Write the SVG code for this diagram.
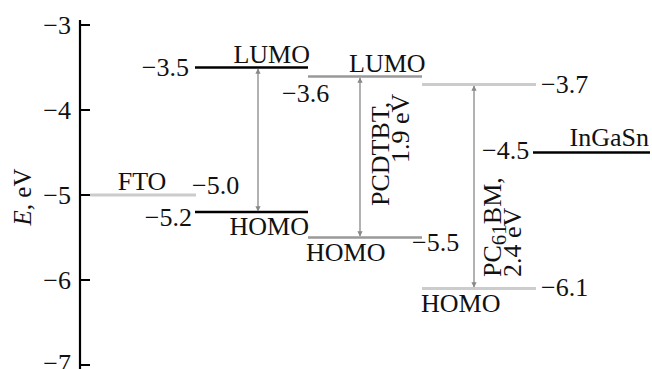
<svg xmlns="http://www.w3.org/2000/svg" width="652" height="369" viewBox="0 0 652 369">
<defs>
<marker id="ah" viewBox="0 0 10 10" refX="9" refY="5" markerWidth="4" markerHeight="4" orient="auto-start-reverse" markerUnits="strokeWidth">
<path d="M0,0 L10,5 L0,10 z" fill="#888"/>
</marker>
<style>
text{font-family:"Liberation Serif","Times New Roman",serif;font-size:26px;fill:#111}
.ax{stroke:#000;stroke-width:2.2;fill:none}
.blk{stroke:#000;stroke-width:2.5}
.mid{stroke:#999;stroke-width:2.5}
.lt{stroke:#ccc;stroke-width:3}
.arr{stroke:#888;stroke-width:1.3;marker-start:url(#ah);marker-end:url(#ah)}
.e{text-anchor:end}
</style>
</defs>
<g id="axis">
<line class="ax" x1="80" y1="20" x2="80" y2="369"/>
<path class="ax" d="M80,25H90M80,110H90M80,195H90M80,280H90M80,365H90"/>
<text class="e" x="71" y="34">−3</text>
<text class="e" x="71" y="119">−4</text>
<text class="e" x="71" y="204">−5</text>
<text class="e" x="71" y="289">−6</text>
<text class="e" x="71" y="372">−7</text>
<text transform="translate(31,197) rotate(-90)" text-anchor="middle" style="font-size:25px"><tspan font-style="italic">E</tspan>, eV</text>
</g>
<g id="fto">
<line class="lt" x1="90" y1="195" x2="196" y2="195"/>
<text x="142" y="190" text-anchor="middle">FTO</text>
<text x="192" y="194">−5.0</text>
</g>
<g id="donor">
<line class="blk" x1="195" y1="67.5" x2="308" y2="67.5"/>
<line class="blk" x1="195" y1="212" x2="308" y2="212"/>
<text class="e" x="310" y="63">LUMO</text>
<text class="e" x="309" y="235">HOMO</text>
<text class="e" x="189" y="76">−3.5</text>
<text class="e" x="192" y="226">−5.2</text>
</g>
<g id="pcdtbt">
<line class="mid" x1="308" y1="76.5" x2="422" y2="76.5"/>
<line class="mid" x1="308" y1="237.5" x2="422" y2="237.5"/>
<text x="349" y="72">LUMO</text>
<text x="306" y="261">HOMO</text>
<text x="282" y="102">−3.6</text>
<text x="412" y="251">−5.5</text>
<text transform="translate(389,206) rotate(-90)">PCDTBT,</text>
<text transform="translate(409,163) rotate(-90)">1.9 eV</text>
</g>
<g id="pcbm">
<line class="lt" x1="422" y1="84.5" x2="536" y2="84.5"/>
<line class="lt" x1="422" y1="288.5" x2="536" y2="288.5"/>
<text x="541" y="93">−3.7</text>
<text x="541" y="296">−6.1</text>
<text x="421" y="312">HOMO</text>
<text transform="translate(501,277) rotate(-90)">PC<tspan dy="5" style="font-size:21px">61</tspan><tspan dy="-5">BM,</tspan></text>
<text transform="translate(521,277) rotate(-90)">2.4 eV</text>
</g>
<g id="ingasn">
<line class="blk" x1="533" y1="152.5" x2="650" y2="152.5"/>
<text class="e" x="649" y="146">InGaSn</text>
<text x="482" y="159">−4.5</text>
</g>
<g id="connectors">
<line class="arr" x1="258" y1="69" x2="258" y2="211"/>
<line class="arr" x1="360" y1="78" x2="360" y2="236"/>
<line class="arr" x1="474" y1="86" x2="474" y2="287"/>
</g>
</svg>
